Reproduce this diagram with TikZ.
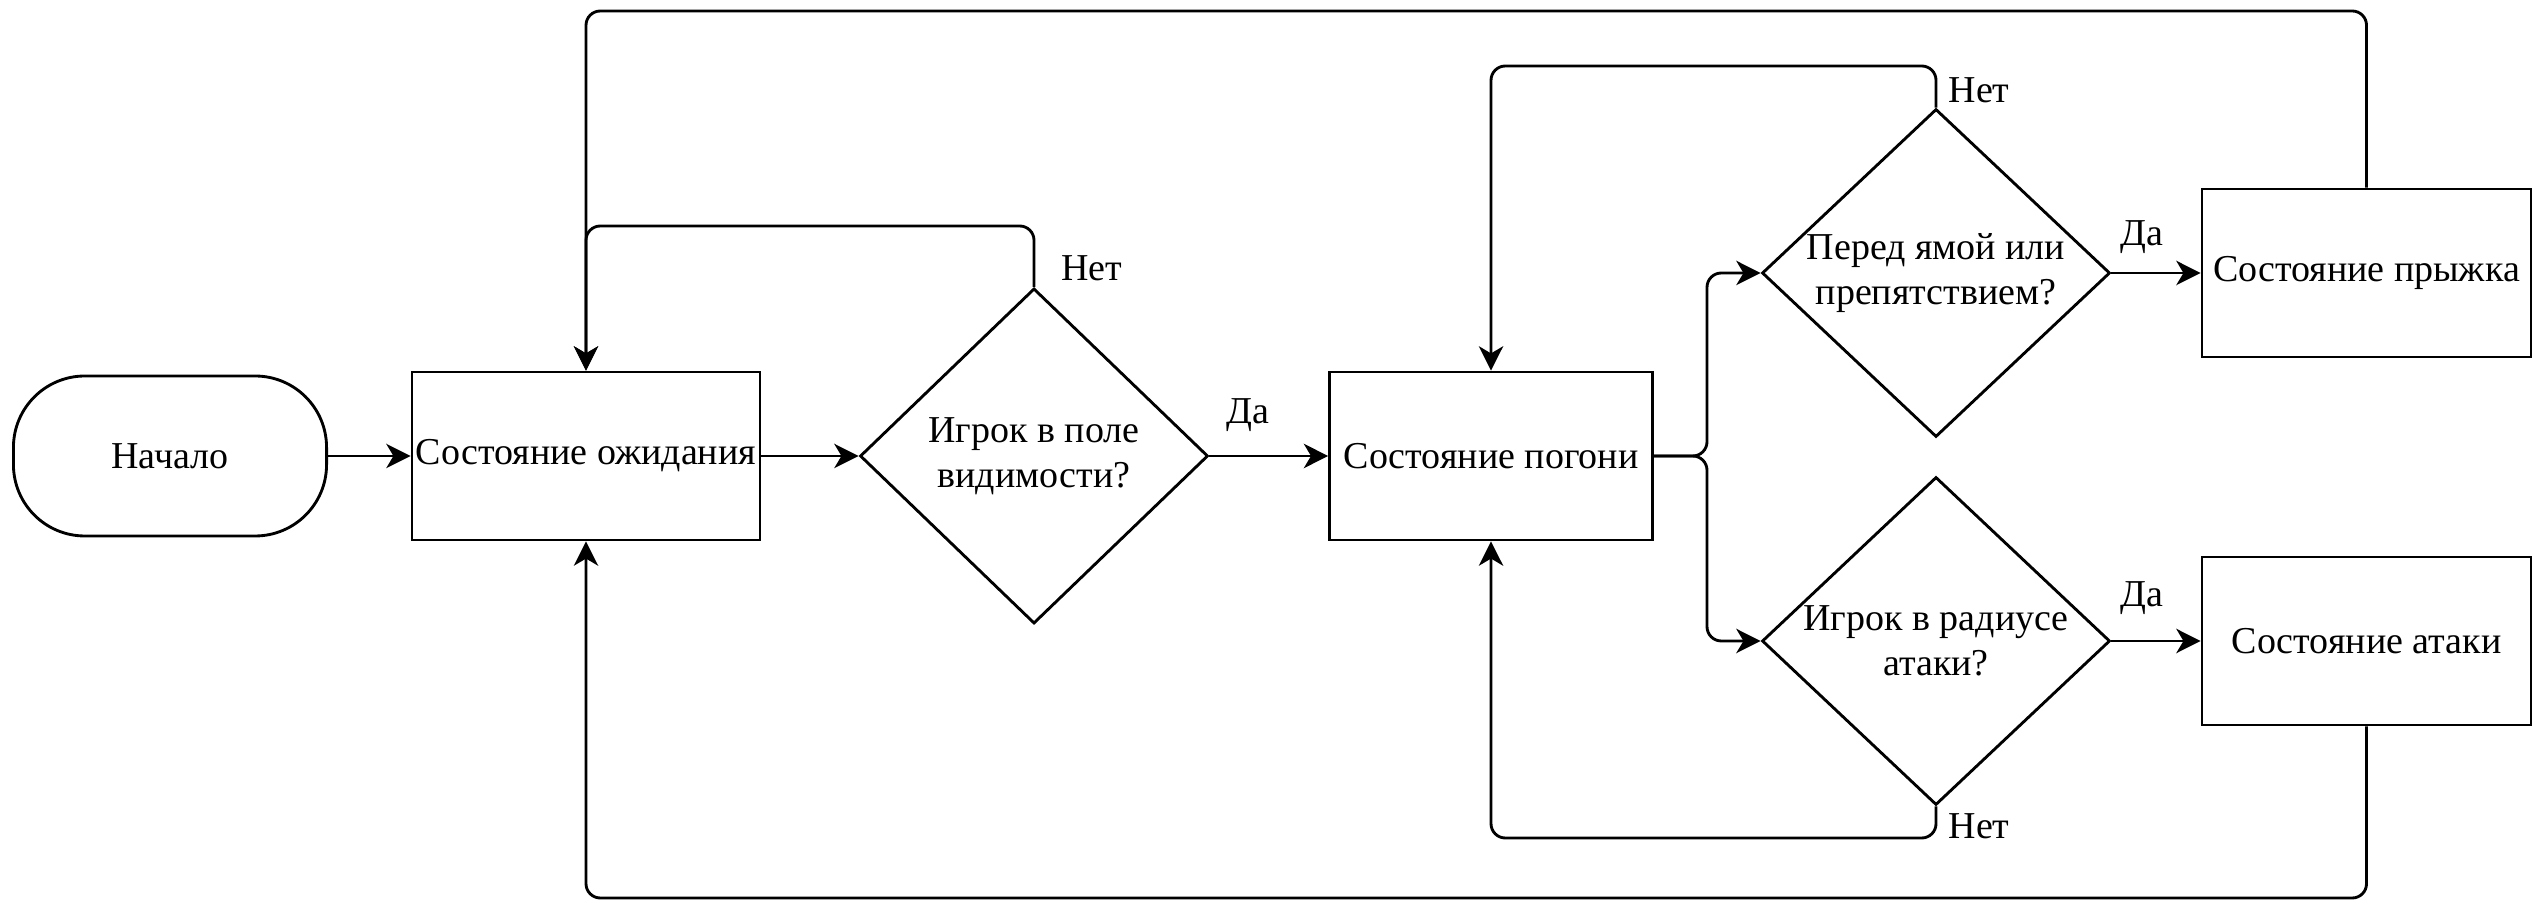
\documentclass[tikz,border=0pt]{standalone}
\usepackage{fontspec}
\setmainfont{Liberation Serif}
\usetikzlibrary{shapes.geometric,arrows.meta}
\begin{document}
\begin{tikzpicture}[x=0.35pt,y=-0.35pt,
  every node/.style={font=\fontsize{13.3}{15.8}\selectfont},
  box/.style={draw,line width=1pt,minimum height=58.8pt,inner sep=0pt,align=center},
  startbox/.style={draw,line width=1pt,rounded corners=25pt,minimum width=109.6pt,minimum height=56pt,inner sep=0pt},
  dia/.style={draw,diamond,line width=1pt,inner sep=0pt,minimum width=121.8pt},
  txt/.style={align=center,inner sep=0pt},
  lbl/.style={inner sep=0pt},
  arr/.style={-{Stealth[length=8.5pt,width=8.5pt,inset=2.5pt]},line width=1pt,rounded corners=5pt},
  ln/.style={line width=1pt,rounded corners=5pt}]
\useasboundingbox (0,0) rectangle (2533,903);

% nodes
\node[startbox] (S) at (170,456) {Начало};
\node[box,minimum width=121.8pt] (W) at (586,456) {Состояние ожидания};
\node[dia,minimum height=117.3pt] (D1) at (1034,456) {};
\node[txt] (D1t) at (D1) {Игрок в поле\\видимости?};
\node[box,minimum width=113pt] (C) at (1491,456) {Состояние погони};
\node[dia,minimum height=114.8pt] (D2) at (1936,273) {};
\node[txt] (D2t) at (D2) {Перед ямой или\\препятствием?};
\node[dia,minimum height=114.8pt] (D3) at (1936,641) {};
\node[txt] (D3t) at (D3) {Игрок в радиусе\\атаки?};
\node[box,minimum width=115.15pt] (J) at (2366.5,273) {Состояние прыжка};
\node[box,minimum width=115.15pt] (A) at (2366.5,641) {Состояние атаки};

% labels
\node[lbl] (l1) at (1092,268) {Нет};
\node[lbl] (l2) at (1248,415) {Да};
\node[lbl] (l3) at (1979,90) {Нет};
\node[lbl] (l4) at (2142,237) {Да};
\node[lbl] (l5) at (2142,598) {Да};
\node[lbl] (l6) at (1979,826) {Нет};

% helper coordinates
\coordinate (ytop) at (0,11);
\coordinate (yd1) at (0,226);
\coordinate (yd2) at (0,66);
\coordinate (yd3) at (0,838);
\coordinate (ybot) at (0,898);
\coordinate (xsplit) at (1707,0);

% connectors
\draw[arr] (S.east) -- (W.west);
\draw[arr] (W.east) -- (D1.west);
\draw[arr] (D1.east) -- (C.west);
\draw[arr] (D1.north) -- (D1.north |- yd1) -- (W.north |- yd1) -- (W.north);
\draw[arr] (J.north) -- (J.north |- ytop) -- (W.north |- ytop) -- (W.north);
\draw[arr] (A.south) -- (A.south |- ybot) -- (W.south |- ybot) -- (W.south);
\draw[arr] (C.east) -- (xsplit |- C.east) -- (xsplit |- D2.west) -- (D2.west);
\draw[arr] (C.east) -- (xsplit |- C.east) -- (xsplit |- D3.west) -- (D3.west);
\draw[arr] (D2.east) -- (J.west);
\draw[arr] (D3.east) -- (A.west);
\draw[arr] (D2.north) -- (D2.north |- yd2) -- (C.north |- yd2) -- (C.north);
\draw[arr] (D3.south) -- (D3.south |- yd3) -- (C.south |- yd3) -- (C.south);
\end{tikzpicture}
\end{document}
